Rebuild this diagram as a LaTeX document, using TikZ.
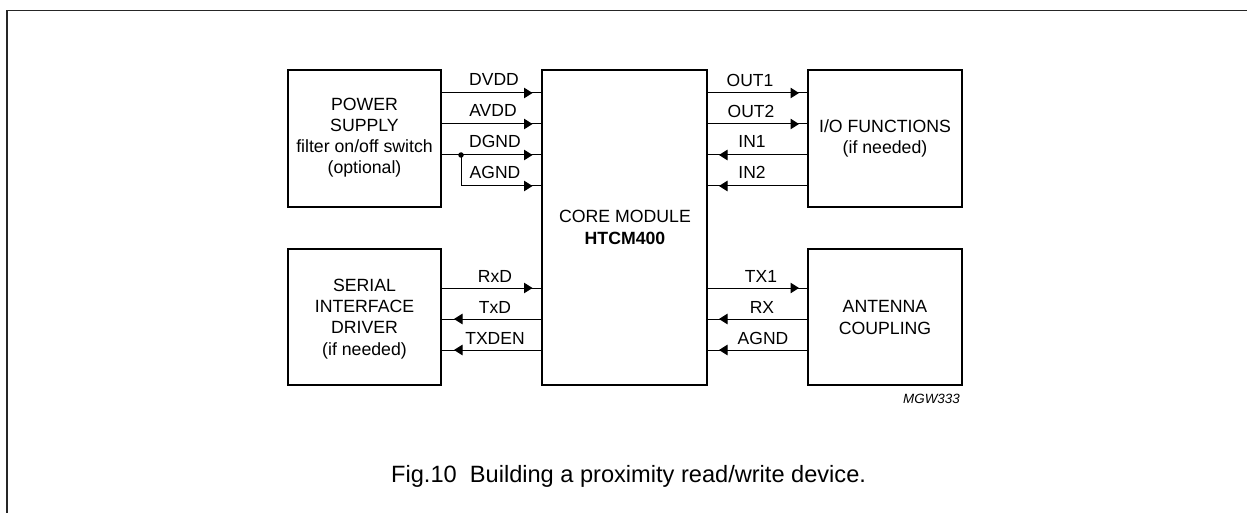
\documentclass[tikz,border=0pt]{standalone}
\usepackage{fontspec}
\setmainfont{Liberation Sans}
\usetikzlibrary{arrows.meta,decorations.markings}
\tikzset{
  x=1pt,y=-1pt,
  blockbox/.style={draw=black,line width=2pt,fill=white,inner sep=0pt,outer sep=0pt,anchor=north west},
  boxtext/.style={font=\fontsize{17.7}{21.2}\selectfont,align=center,inner sep=0pt,anchor=base},
  siglabel/.style={font=\fontsize{17.5}{20}\selectfont,inner sep=0pt,anchor=base},
  wire/.style={draw=black,line width=1pt},
  tipat/.style={postaction={decorate},decoration={markings,mark=at position #1 with {\arrow{Triangle[length=8.5pt,width=10.5pt]}}}},
  dotmark/.style={circle,fill=black,inner sep=0pt,minimum size=5.5pt},
}
\begin{document}
\begin{tikzpicture}
\useasboundingbox (0,0) rectangle (1247,513);
\draw[line width=1.7pt,black!85] (7,513) -- (7,10.5) -- (1247,10.5);

\node[blockbox,minimum width=153pt,minimum height=137pt] (power) at (288,70) {};
\node[blockbox,minimum width=165pt,minimum height=315pt] (core) at (542,70) {};
\node[blockbox,minimum width=154pt,minimum height=137pt] (io) at (808,70) {};
\node[blockbox,minimum width=153pt,minimum height=136pt] (serial) at (288,249) {};
\node[blockbox,minimum width=154pt,minimum height=136pt] (antenna) at (808,249) {};

\node[boxtext] (powertxt) at (364.5,174) {POWER\\SUPPLY\\filter on/off switch\\(optional)};
\node[boxtext] (coretxt) at (625,244) {CORE MODULE\\\textbf{HTCM400}};
\node[boxtext] (iotxt) at (885,154) {I/O FUNCTIONS\\(if needed)};
\node[boxtext] (serialtxt) at (364.5,355) {SERIAL\\INTERFACE\\DRIVER\\(if needed)};
\node[boxtext] (anttxt) at (885,334) {ANTENNA\\COUPLING};

% power to core
\draw[wire,tipat=-9.5pt] (power.east |- 0,93) -- (core.west |- 0,93);
\draw[wire,tipat=-9.5pt] (power.east |- 0,124) -- (core.west |- 0,124);
\draw[wire,tipat=-9.5pt] (power.east |- 0,155) -- (core.west |- 0,155);
\node[dotmark] (junction) at (461,155) {};
\draw[wire,tipat=-9.5pt] (junction.center) -- (junction.center |- 0,186) -- (core.west |- 0,186);
% core to io
\draw[wire,tipat=-9pt] (core.east |- 0,93) -- (io.west |- 0,93);
\draw[wire,tipat=-9pt] (core.east |- 0,124) -- (io.west |- 0,124);
\draw[wire,tipat=-12pt] (io.west |- 0,155) -- (core.east |- 0,155);
\draw[wire,tipat=-12pt] (io.west |- 0,186) -- (core.east |- 0,186);
% serial
\draw[wire,tipat=-9.5pt] (serial.east |- 0,288) -- (core.west |- 0,288);
\draw[wire,tipat=-13pt] (core.west |- 0,319) -- (serial.east |- 0,319);
\draw[wire,tipat=-13pt] (core.west |- 0,350) -- (serial.east |- 0,350);
% antenna
\draw[wire,tipat=-9pt] (core.east |- 0,288) -- (antenna.west |- 0,288);
\draw[wire,tipat=-12pt] (antenna.west |- 0,319) -- (core.east |- 0,319);
\draw[wire,tipat=-12pt] (antenna.west |- 0,350) -- (core.east |- 0,350);

\node[siglabel] (l1) at (494,86) {DVDD};
\node[siglabel] (l2) at (493,117) {AVDD};
\node[siglabel] (l3) at (495,148) {DGND};
\node[siglabel] (l4) at (495,178.5) {AGND};
\node[siglabel] (l5) at (750,87) {OUT1};
\node[siglabel] (l6) at (751,118) {OUT2};
\node[siglabel] (l7) at (752,148) {IN1};
\node[siglabel] (l8) at (752,179) {IN2};
\node[siglabel] (l9) at (495,282) {RxD};
\node[siglabel] (l10) at (495,313) {TxD};
\node[siglabel] (l11) at (495,344) {TXDEN};
\node[siglabel] (l12) at (761,282) {TX1};
\node[siglabel] (l13) at (762,313) {RX};
\node[siglabel] (l14) at (763,344) {AGND};

\node[font=\fontsize{13.4}{15}\selectfont\itshape,inner sep=0pt,anchor=base east] (mgw) at (960,403) {MGW333};
\node[font=\fontsize{23.6}{26}\selectfont,inner sep=0pt,anchor=base west] (caption) at (391,482) {Fig.10\hspace{0.556em}Building a proximity read/write device.};
\end{tikzpicture}
\end{document}
